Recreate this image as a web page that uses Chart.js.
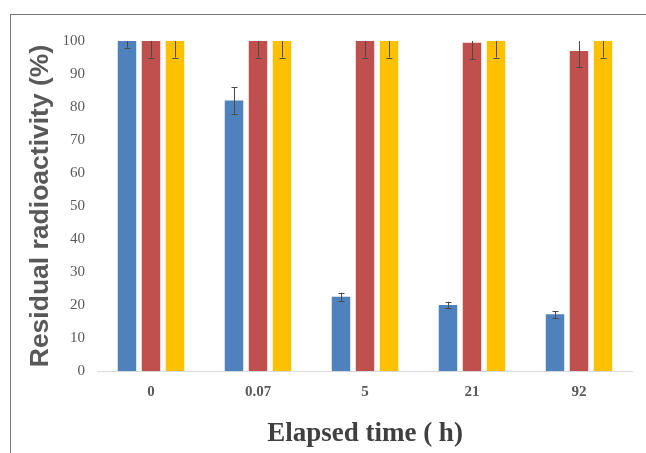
<!DOCTYPE html>
<html>
<head>
<meta charset="utf-8">
<script src="https://cdn.jsdelivr.net/npm/chart.js@4"></script>
<style>
    body { margin: 0; background: #fff; }
    #wrap { position: relative; width: 646px; height: 453px; }
    #frame {
        position: absolute; left: 10px; top: 14px; right: 0; bottom: 0;
        border-left: 1px solid #777; border-top: 1px solid #777;
        pointer-events: none;
    }
</style>
</head>
<body>
<div id="wrap">
    <canvas id="chart" width="646" height="453"></canvas>
    <div id="frame"></div>
</div>
<script>
// Elapsed time categories (h)
const timeLabels = ['0', '0.07', '5', '21', '92'];

// Residual radioactivity (%) for the three series
const blueValues = [100, 82, 22.5, 20, 17.2];
const redValues = [100, 100, 100, 99.5, 97];
const yellowValues = [100, 100, 100, 100, 100];

// Error bar half-lengths
const blueErrors = [2, 4, 1.2, 1, 1];
const redErrors = [5, 5, 5, 5, 5];
const yellowErrors = [5, 5, 5, 5, 5];

const yTicks = [0, 10, 20, 30, 40, 50, 60, 70, 80, 90, 100];

// Draw error bars from each bar's position using the chart scales
const errorBarPlugin = {
    id: 'errorBars',
    afterDatasetsDraw(chart) {
        const ctx = chart.ctx;
        const area = chart.chartArea;
        const yScale = chart.scales.y;
        ctx.save();
        ctx.beginPath();
        ctx.rect(area.left, area.top, area.right - area.left, area.bottom - area.top);
        ctx.clip();
        ctx.strokeStyle = '#4a4a4a';
        ctx.lineWidth = 1;
        chart.data.datasets.forEach((ds, i) => {
            const meta = chart.getDatasetMeta(i);
            meta.data.forEach((bar, j) => {
                const v = ds.data[j];
                const e = ds.errors[j];
                const x = Math.round(bar.x) + 0.5;
                const yHi = yScale.getPixelForValue(v + e);
                const yLo = yScale.getPixelForValue(v - e);
                ctx.beginPath();
                ctx.moveTo(x, yHi);
                ctx.lineTo(x, yLo);
                ctx.moveTo(x - 3, Math.round(yHi) + 0.5);
                ctx.lineTo(x + 3, Math.round(yHi) + 0.5);
                ctx.moveTo(x - 3, Math.round(yLo) + 0.5);
                ctx.lineTo(x + 3, Math.round(yLo) + 0.5);
                ctx.stroke();
            });
        });
        ctx.restore();
    }
};

new Chart(document.getElementById('chart'), {
    type: 'bar',
    data: {
        labels: timeLabels,
        datasets: [
            { data: blueValues, errors: blueErrors, backgroundColor: '#4f81bd' },
            { data: redValues, errors: redErrors, backgroundColor: '#c0504d' },
            { data: yellowValues, errors: yellowErrors, backgroundColor: '#ffc000' }
        ]
    },
    options: {
        responsive: false,
        animation: false,
        devicePixelRatio: 1,
        layout: { padding: { left: 25, top: 41, right: 13.5, bottom: 3 } },
        datasets: {
            bar: { categoryPercentage: 0.673, barPercentage: 0.77 }
        },
        plugins: {
            legend: { display: false },
            tooltip: { enabled: false }
        },
        scales: {
            x: {
                grid: { display: false, drawTicks: false },
                border: { display: true, color: '#d9d9d9', width: 1 },
                ticks: {
                    padding: 12,
                    color: '#595959',
                    font: { family: 'Liberation Serif', size: 15, weight: 'bold' }
                },
                title: {
                    display: true,
                    text: 'Elapsed time ( h)',
                    color: '#404040',
                    padding: 0,
                    font: { family: 'Liberation Serif', size: 27, weight: 'bold' }
                },
                afterFit(scale) { scale.height = 79; }
            },
            y: {
                min: 0,
                max: 100,
                grid: { display: false, drawTicks: false },
                border: { display: false },
                afterBuildTicks(scale) { scale.ticks = yTicks.map(v => ({ value: v })); },
                ticks: {
                    padding: 12.5,
                    color: '#595959',
                    font: { family: 'Liberation Serif', size: 15 }
                },
                title: {
                    display: true,
                    text: 'Residual radioactivity (%)',
                    color: '#595959',
                    padding: 0,
                    font: { family: 'Liberation Sans', size: 26.5, weight: 'bold' }
                },
                afterFit(scale) { scale.width = 72.5; }
            }
        }
    },
    plugins: [errorBarPlugin]
});
</script>
</body>
</html>
